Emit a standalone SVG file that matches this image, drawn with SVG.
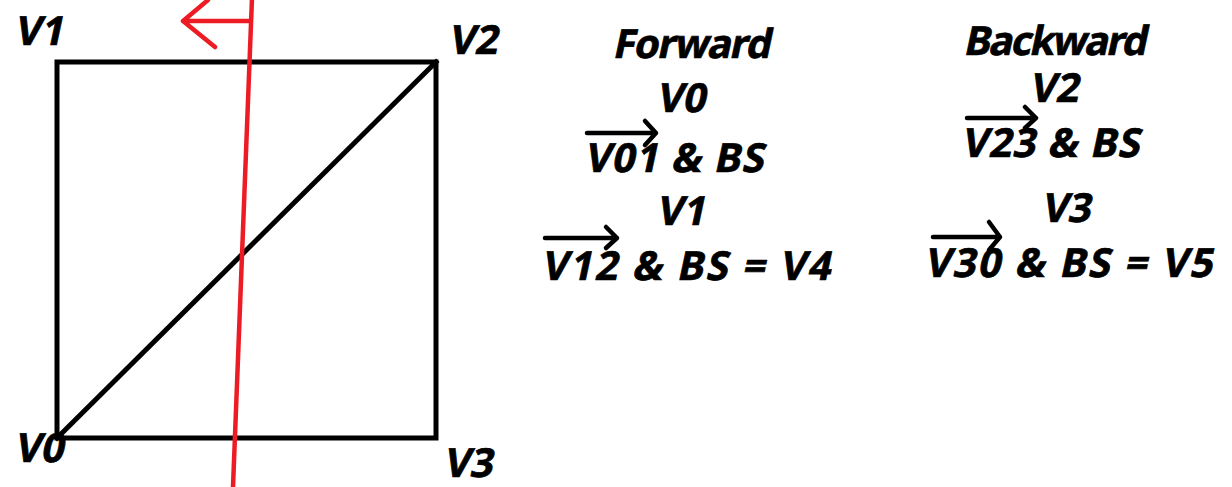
<svg xmlns="http://www.w3.org/2000/svg" width="1232" height="487" viewBox="0 0 1232 487">
<style>
.t{font-family:"Noto Sans","Open Sans","DejaVu Sans",sans-serif;font-weight:bold;font-size:40px;fill:#000;stroke:#000;stroke-width:0.7}
.k{stroke:#000;stroke-width:5;fill:none;stroke-linecap:square}
.r{stroke:#ed1c24;stroke-width:4.5;fill:none;stroke-linecap:round;stroke-linejoin:round}
.v{stroke:#000;stroke-width:4.5;fill:none;stroke-linecap:round;stroke-linejoin:round}
</style>
<rect width="1232" height="487" fill="#fff"/>
<g id="square">
<rect class="k" x="57" y="62" width="379" height="376"/>
</g>
<g id="connectors">
<line class="k" x1="57" y1="438" x2="436" y2="62"/>
<path class="r" d="M252,-2 L233,487"/>
<path class="r" d="M250,21 L183,21 M208,0 L183,21 L215,47"/>
<path class="v" d="M587,133 L656,133 M645,121 L656,133 L645,145"/>
<path class="v" d="M545,238 L617,238 M606,227 L617,238 L606,248"/>
<path class="v" d="M967,118 L1036,118 M1025,107 L1036,118 L1025,128"/>
<path class="v" d="M933,237 L1000,237 M989,222 L1000,237 L989,250"/>
</g>
<g id="v1"><text class="t" transform="translate(14,45) skewX(-12)">V1</text></g>
<g id="v2"><text class="t" transform="translate(448,54) skewX(-12)">V2</text></g>
<g id="v0"><text class="t" transform="translate(14,462) skewX(-12)">V0</text></g>
<g id="v3"><text class="t" transform="translate(443,477) skewX(-12)">V3</text></g>
<g id="forward">
<text class="t" transform="translate(612,58) skewX(-12)" textLength="158" lengthAdjust="spacing">Forward</text>
<text class="t" transform="translate(656,112) skewX(-12)">V0</text>
<text class="t" transform="translate(584,172) skewX(-12)" textLength="179" lengthAdjust="spacing">V01 &amp; BS</text>
<text class="t" transform="translate(656,225) skewX(-12)">V1</text>
<text class="t" transform="translate(541,280) skewX(-12)" textLength="289" lengthAdjust="spacing">V12 &amp; BS = V4</text>
</g>
<g id="backward">
<text class="t" transform="translate(963,55) skewX(-12)" textLength="183" lengthAdjust="spacing">Backward</text>
<text class="t" transform="translate(1029,102) skewX(-12)">V2</text>
<text class="t" transform="translate(961,157) skewX(-12)" textLength="178" lengthAdjust="spacing">V23 &amp; BS</text>
<text class="t" transform="translate(1041,222) skewX(-12)">V3</text>
<text class="t" transform="translate(924,277) skewX(-12)" textLength="288" lengthAdjust="spacing">V30 &amp; BS = V5</text>
</g>
</svg>
